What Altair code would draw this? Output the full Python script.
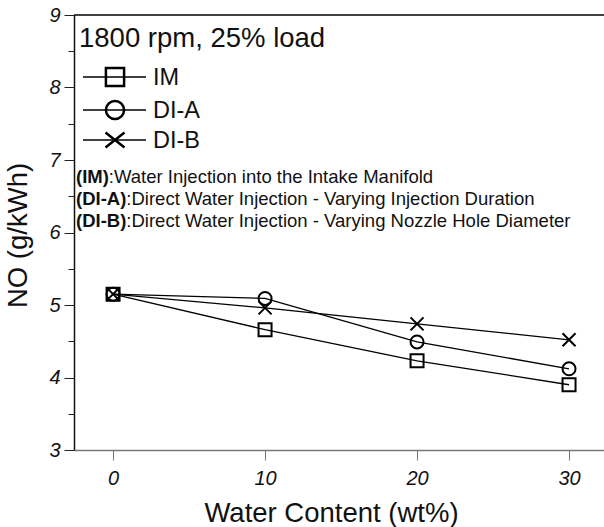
import altair as alt
import pandas as pd

# ---------------- data ----------------
water = [0, 10, 20, 30]
series_names = ["IM", "DI-A", "DI-B"]
no_im = [5.15, 4.66, 4.23, 3.90]
no_dia = [5.15, 5.09, 4.49, 4.12]
no_dib = [5.15, 4.96, 4.74, 4.52]
x_ticks = [0, 10, 20, 30]
y_ticks = [3, 3.5, 4, 4.5, 5, 5.5, 6, 6.5, 7, 7.5, 8, 8.5, 9]
header = "1800 rpm, 25% load"
notes_bold = ["(IM)", "(DI-A)", "(DI-B)"]
notes_text = [
    ":Water Injection into the Intake Manifold",
    ":Direct Water Injection - Varying Injection Duration",
    ":Direct Water Injection - Varying Nozzle Hole Diameter",
]
x_title = "Water Content (wt%)"
y_title = "NO (g/kWh)"

rows = []
for name, vals in zip(series_names, [no_im, no_dia, no_dib]):
    for w, v in zip(water, vals):
        rows.append({"water": w, "no": v, "series": name})
df = pd.DataFrame(rows)

FONT = "Liberation Sans"
W, H = 530, 435
X_PATH = "M-1,-1L1,1M-1,1L1,-1"
shapes = ["square", "circle", X_PATH]

x_enc = alt.X(
    "water:Q",
    scale=alt.Scale(domain=[-2.57, 32.3], nice=False, zero=False),
    axis=alt.Axis(
        values=x_ticks, title=x_title, grid=False, format="d",
        labelFont=FONT, labelFontSize=20, labelFontStyle="italic", labelColor="#111",
        labelPadding=8, tickSize=10, tickColor="#777", tickWidth=1,
        domainColor="#777", domainWidth=1.5,
        titleFont=FONT, titleFontSize=27.5, titleFontWeight="normal", titleColor="#111",
        titleX=257, titleY=71, titleBaseline="alphabetic", titleAnchor="start",
        titleAlign="center",
    ),
)
y_enc = alt.Y(
    "no:Q",
    scale=alt.Scale(domain=[3, 9], nice=False, zero=False),
    axis=alt.Axis(
        values=y_ticks, grid=False, title=y_title,
        labelExpr="datum.value % 1 === 0 ? format(datum.value, 'd') : ''",
        labelFont=FONT, labelFontSize=20, labelFontStyle="italic", labelColor="#111",
        labelPadding=4,
        tickSize={"condition": {"test": "datum.value % 1 === 0", "value": 10}, "value": 6},
        tickColor="#222", tickWidth=1,
        domainColor="#111", domainWidth=1.5,
        titleFont=FONT, titleFontSize=27.5, titleFontWeight="normal", titleColor="#111",
        titleAngle=270, titleX=-56, titleY=220, titleAlign="center",
        titleBaseline="middle", titleAnchor="start",
    ),
)

base = alt.Chart(df)
lines = base.mark_line(color="black", strokeWidth=1.3).encode(
    x=x_enc, y=y_enc, detail="series:N"
)
points = base.mark_point(filled=False, stroke="black", strokeWidth=2, size=169, opacity=1).encode(
    x=x_enc, y=y_enc,
    shape=alt.Shape("series:N", scale=alt.Scale(domain=series_names, range=shapes), legend=None),
)

one = pd.DataFrame({"k": [0]})
layers = [lines, points]

# top border
layers.append(
    alt.Chart(one).mark_rule(color="black", strokeWidth=1.5).encode(
        x=alt.value(0), x2=alt.value(W), y=alt.value(0)
    )
)

# header
layers.append(
    alt.Chart(one).mark_text(font=FONT, fontSize=27.5, align="left", baseline="alphabetic", color="#111").encode(
        x=alt.value(5), y=alt.value(32), text=alt.value(header)
    )
)

# manual legend
leg_y = [62, 95, 125]
leg_shapes = ["square", "circle", "M-1,-0.8L1,0.8M-1,0.8L1,-0.8"]
leg_sizes = [330, 330, 361]
for name, yy, shp, sz in zip(series_names, leg_y, leg_shapes, leg_sizes):
    layers.append(
        alt.Chart(one).mark_rule(color="black", strokeWidth=1.3).encode(
            x=alt.value(9), x2=alt.value(72), y=alt.value(yy)
        )
    )
    layers.append(
        alt.Chart(one).mark_point(shape=shp, size=sz, filled=False, stroke="black", strokeWidth=2.5, opacity=1).encode(
            x=alt.value(41), y=alt.value(yy)
        )
    )
    layers.append(
        alt.Chart(one).mark_text(font=FONT, fontSize=23.5, align="left", baseline="middle", color="#111").encode(
            x=alt.value(79), y=alt.value(yy + 1), text=alt.value(name)
        )
    )

# annotations (bold prefix + normal text)
NOTE_FS = 18.5
bold_w = {"(": 333, ")": 333, "I": 278, "M": 833, "D": 722, "-": 333, "A": 722, "B": 722}
note_y = [162, 184, 206]
for b, t, yy in zip(notes_bold, notes_text, note_y):
    bw = sum(bold_w[c] for c in b) * NOTE_FS / 1000.0
    layers.append(
        alt.Chart(one).mark_text(font=FONT, fontSize=NOTE_FS, fontWeight="bold", align="left", baseline="middle", color="#111").encode(
            x=alt.value(2), y=alt.value(yy), text=alt.value(b)
        )
    )
    layers.append(
        alt.Chart(one).mark_text(font=FONT, fontSize=NOTE_FS, align="left", baseline="middle", color="#111").encode(
            x=alt.value(2 + bw), y=alt.value(yy), text=alt.value(t)
        )
    )

chart = (
    alt.layer(*layers)
    .properties(
        width=W, height=H,
        autosize=alt.AutoSizeParams(type="none"),
        padding={"left": 74, "top": 15, "right": 0, "bottom": 77},
        background="white",
    )
    .configure_view(stroke=None)
)

chart.save("out.html", embed_options={"renderer": "svg", "actions": False})
